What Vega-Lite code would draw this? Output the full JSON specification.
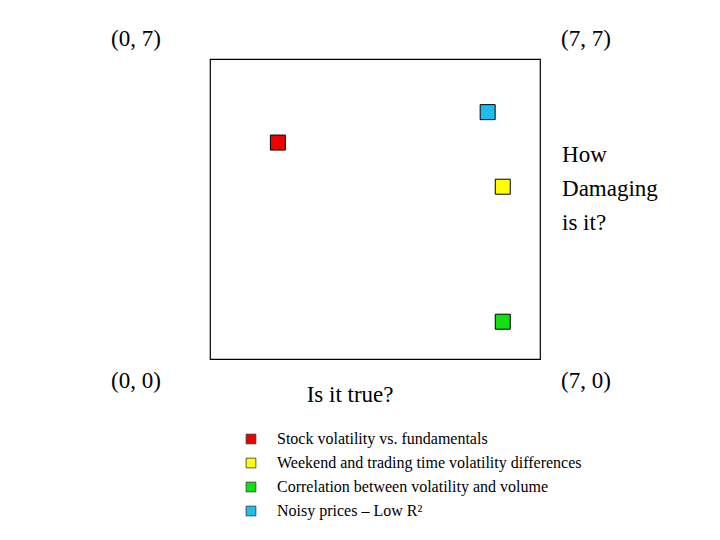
{
  "$schema": "https://vega.github.io/schema/vega-lite/v6.json",
  "width": 330,
  "height": 300,
  "autosize": {"type": "none"},
  "padding": {"left": 210, "top": 59, "right": 180, "bottom": 181},
  "background": "white",
  "config": {"view": {"stroke": "black", "strokeWidth": 1.2}, "font": "Liberation Serif"},
  "layer": [
    {
      "data": {"values": [
        {"item": "Stock volatility vs. fundamentals", "x": 1.44, "y": 5.05},
        {"item": "Weekend and trading time volatility differences", "x": 6.21, "y": 4.02},
        {"item": "Correlation between volatility and volume", "x": 6.21, "y": 0.87},
        {"item": "Noisy prices – Low R²", "x": 5.89, "y": 5.76}
      ]},
      "mark": {"type": "point", "shape": "square", "filled": true, "size": 225, "stroke": "black", "strokeWidth": 1, "opacity": 1},
      "encoding": {
        "x": {"field": "x", "type": "quantitative", "scale": {"domain": [0, 7], "nice": false, "zero": false}, "axis": null},
        "y": {"field": "y", "type": "quantitative", "scale": {"domain": [0, 7], "nice": false, "zero": false}, "axis": null},
        "color": {
          "field": "item", "type": "nominal",
          "scale": {
            "domain": ["Stock volatility vs. fundamentals", "Weekend and trading time volatility differences", "Correlation between volatility and volume", "Noisy prices – Low R²"],
            "range": ["#ee0000", "#ffff00", "#11e011", "#1fbcee"]
          },
          "legend": {
            "orient": "none", "legendX": 33, "legendY": 372, "title": null, "padding": 0,
            "labelFont": "Liberation Serif", "labelFontSize": 16, "labelColor": "black", "labelLimit": 0,
            "symbolType": "square", "symbolSize": 95, "symbolStrokeColor": "#333333", "symbolStrokeWidth": 0.8, "symbolOpacity": 1,
            "labelOffset": 18, "rowPadding": 8
          }
        }
      }
    },
    {
      "data": {"values": [
        {"label": "(0, 7)", "x": -2.1, "y": 7.3},
        {"label": "(7, 7)", "x": 7.445, "y": 7.3},
        {"label": "(0, 0)", "x": -2.1, "y": -0.677},
        {"label": "(7, 0)", "x": 7.445, "y": -0.677},
        {"label": "How", "x": 7.467, "y": 4.6},
        {"label": "Damaging", "x": 7.467, "y": 3.803},
        {"label": "is it?", "x": 7.467, "y": 3.01},
        {"label": "Is it true?", "x": 2.05, "y": -1.0}
      ]},
      "mark": {"type": "text", "align": "left", "baseline": "alphabetic", "fontSize": 23, "font": "Liberation Serif", "color": "black"},
      "encoding": {
        "x": {"field": "x", "type": "quantitative"},
        "y": {"field": "y", "type": "quantitative"},
        "text": {"field": "label", "type": "nominal"}
      }
    }
  ]
}
